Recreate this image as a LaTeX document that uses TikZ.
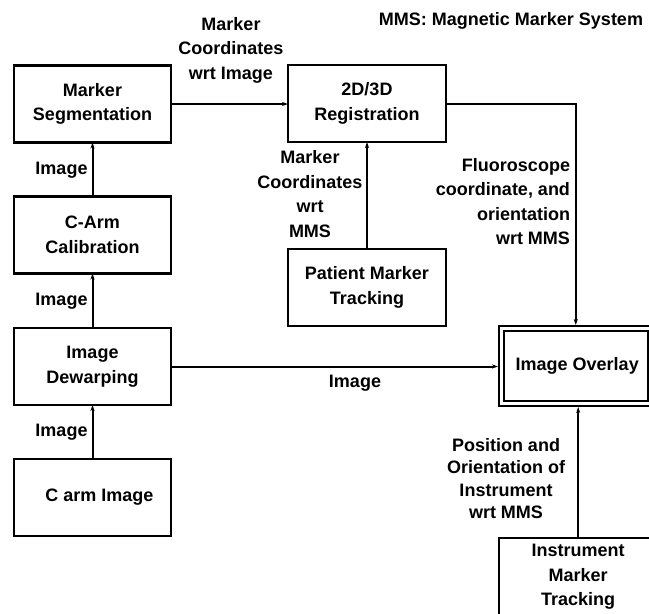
\documentclass[tikz,border=0pt]{standalone}
\usepackage{fontspec}
\setmainfont{Liberation Sans}
\usetikzlibrary{arrows.meta}
\begin{document}
\begin{tikzpicture}[y=1pt, x=1pt, yscale=-1, inner sep=0pt, outer sep=0pt,
  every node/.style={font=\bfseries\fontsize{18}{24.5}\selectfont, align=center},
  block/.style={draw=black, line width=2.4pt, minimum width=157pt, minimum height=77pt},
  flow/.style={draw=black, line width=2pt, -{Stealth[length=6pt,width=4pt]}}]
\useasboundingbox (0,0) rectangle (649,614);
% boxes
\node[block] (seg) at (92.5,104) {Marker\\Segmentation};
\node[block] (calib) at (92.5,235) {C-Arm\\Calibration};
\node[block] (dewarp) at (92.5,366.5) {Image\\Dewarping};
\node[block] (carm) at (92.5,497.5) {\hspace*{14pt}C arm Image};
\node[block, minimum width=158pt] (reg) at (367,103.5) {2D/3D\\Registration};
\node[block, minimum width=158pt] (patient) at (367,287.5) {Patient Marker\\Tracking};
\node[draw=black, line width=2pt, double, double distance=3pt, minimum width=148.5pt,
  minimum height=75pt, outer sep=3.5pt] (overlay) at (575.75,366) {\hspace*{3pt}Image Overlay};
\node[block, minimum width=158pt, minimum height=80pt, text depth=6pt] (instr) at (578.2,578.2)
  {Instrument\\Marker\\Tracking};
% connectors
\draw[flow] (carm) -- (dewarp);
\draw[flow] (dewarp) -- (calib);
\draw[flow] (calib) -- (seg);
\draw[flow] (seg.east) -- (seg.east -| reg.west);
\draw[flow] (patient) -- (reg);
\draw[flow] (reg.east) -| (overlay.north);
\draw[flow] (dewarp.east) -- (dewarp.east -| overlay.west);
\draw[flow] (instr.north) -- (instr.north |- overlay.south);
% labels
\node (title) at (511,21) {MMS: Magnetic Marker System};
\node (lblsegreg) at (231,50) {Marker\\Coordinates\\wrt Image};
\node (lblimgA) at (61.5,170) {Image};
\node (lblimgB) at (61.5,301) {Image};
\node (lblimgC) at (61.5,432) {Image};
\node (lblpat) at (310,194) {Marker\\Coordinates\\wrt\\MMS};
\node[anchor=east, align=right] (lblfluo) at (570,201.5)
  {Fluoroscope\\coordinate, and\\orientation\\wrt MMS};
\node (lblimgD) at (355,383) {Image};
\node[font=\bfseries\fontsize{18}{22.5}\selectfont] (lblpos) at (506,478.5)
  {Position and\\Orientation of\\Instrument\\wrt MMS};
\end{tikzpicture}
\end{document}
